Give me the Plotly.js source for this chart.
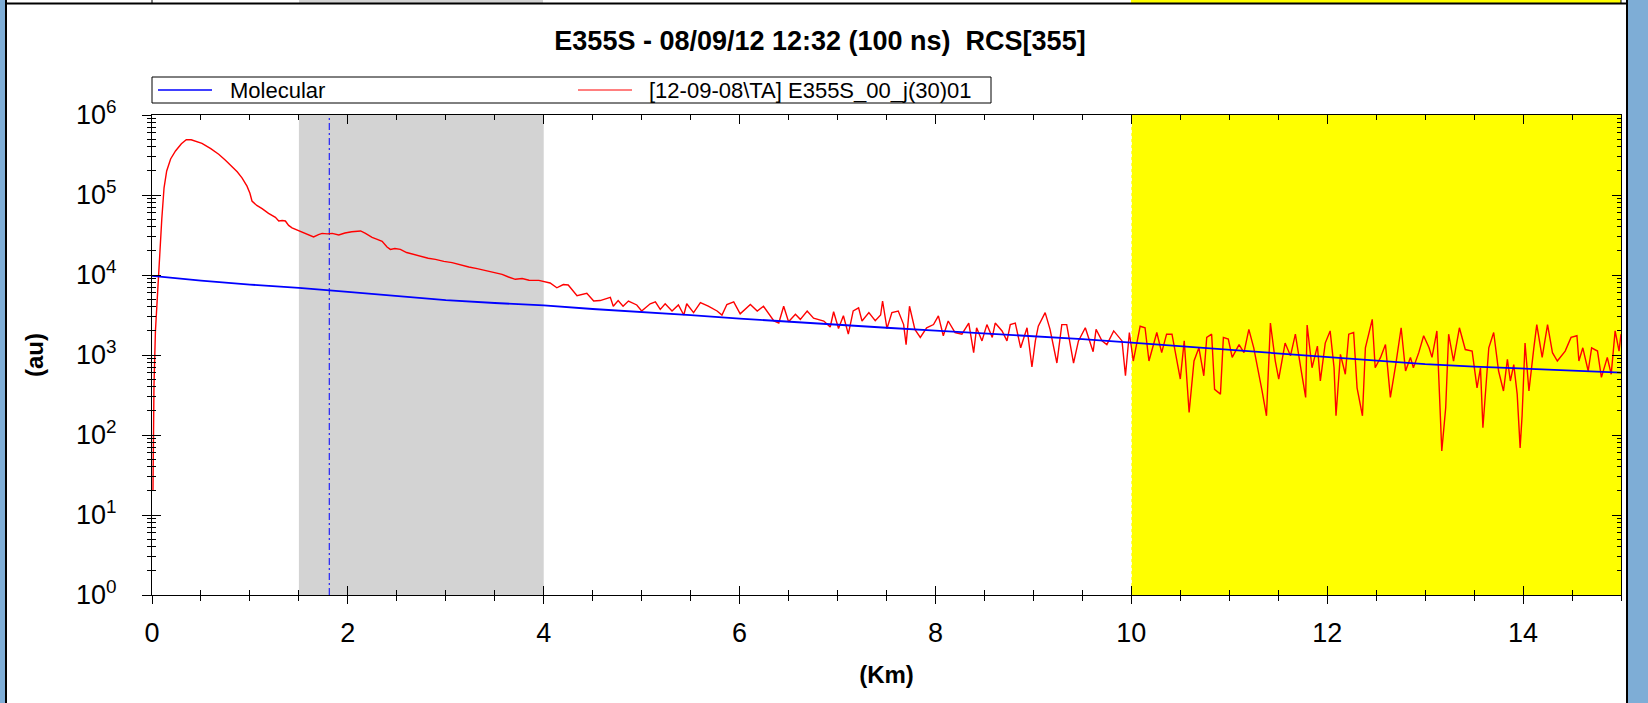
<!DOCTYPE html>
<html>
<head>
<meta charset="utf-8">
<script src="https://cdn.plot.ly/plotly-3.0.1.min.js"></script>
<style>
  html, body { margin: 0; padding: 0; background: #ffffff; }
  #chart { width: 1648px; height: 703px; }
</style>
</head>
<body>
<div id="chart"></div>
<script>
// ---------------- data ----------------
const chartTitle = 'E355S - 08/09/12 12:32 (100 ns)\u00a0\u00a0RCS[355]';
const molName = 'Molecular';
const rcsName = '[12-09-08\\TA] E355S_00_j(30)01';

// Molecular signal (au) vs range (km)
const molKm = [0, 0.5, 1, 1.5, 2, 2.5, 3, 3.5, 4, 4.5, 5, 5.5, 6, 6.5, 7, 7.5, 8, 8.5, 9, 9.5,
  10, 10.5, 11, 11.5, 12, 12.5, 13, 13.5, 14, 14.5, 15];
const molSignal = [9770, 8510, 7590, 6920, 6170, 5500, 4840, 4470, 4170, 3760, 3470, 3160, 2850, 2600,
  2370, 2190, 2020, 1860, 1740, 1580, 1430, 1290, 1170, 1050, 933, 841, 767, 716, 676, 646, 603];

// Range corrected signal (au) vs range (km)
const rcsKm = [0.010, 0.020, 0.035, 0.048, 0.065, 0.082, 0.100, 0.123, 0.150, 0.190, 0.240, 0.300, 0.350,
  0.400, 0.443, 0.510, 0.600, 0.681, 0.750, 0.817, 0.870, 0.919, 0.970, 1.000, 1.021, 1.070, 1.124, 1.190,
  1.260, 1.294, 1.330, 1.362, 1.395, 1.430, 1.470, 1.515, 1.580, 1.650, 1.700, 1.737, 1.790, 1.840, 1.907,
  1.970, 2.040, 2.090, 2.130, 2.180, 2.247, 2.300, 2.350, 2.400, 2.434, 2.480, 2.536, 2.600, 2.690, 2.760,
  2.820, 2.894, 2.980, 3.064, 3.150, 3.235, 3.320, 3.405, 3.490, 3.575, 3.640, 3.710, 3.780, 3.850, 3.950,
  4.065, 4.134, 4.200, 4.250, 4.340, 4.440, 4.510, 4.576, 4.680, 4.710, 4.760, 4.810, 4.865, 4.950, 5.000,
  5.087, 5.140, 5.190, 5.240, 5.310, 5.375, 5.430, 5.460, 5.530, 5.600, 5.680, 5.770, 5.820, 5.870, 5.940,
  6.006, 6.110, 6.180, 6.244, 6.310, 6.350, 6.400, 6.450, 6.500, 6.570, 6.620, 6.690, 6.755, 6.860, 6.925,
  6.960, 7.010, 7.060, 7.110, 7.160, 7.215, 7.250, 7.320, 7.385, 7.440, 7.460, 7.505, 7.555, 7.620, 7.675,
  7.700, 7.735, 7.790, 7.845, 7.910, 7.980, 8.030, 8.080, 8.130, 8.200, 8.270, 8.340, 8.390, 8.420, 8.475,
  8.525, 8.580, 8.610, 8.680, 8.730, 8.764, 8.815, 8.870, 8.935, 8.985, 9.020, 9.050, 9.120, 9.170, 9.240,
  9.290, 9.340, 9.410, 9.460, 9.530, 9.610, 9.640, 9.700, 9.750, 9.820, 9.905, 9.940, 9.980, 10.020, 10.090,
  10.140, 10.180, 10.260, 10.310, 10.360, 10.415, 10.470, 10.500, 10.540, 10.590, 10.640, 10.690, 10.740,
  10.770, 10.820, 10.850, 10.910, 10.940, 10.990, 11.030, 11.100, 11.150, 11.200, 11.250, 11.335, 11.380,
  11.420, 11.470, 11.505, 11.570, 11.625, 11.675, 11.730, 11.780, 11.795, 11.845, 11.900, 11.930, 11.980,
  12.030, 12.070, 12.090, 12.135, 12.185, 12.220, 12.270, 12.305, 12.360, 12.390, 12.460, 12.490, 12.545,
  12.595, 12.645, 12.700, 12.755, 12.800, 12.850, 12.880, 12.935, 12.985, 13.040, 13.070, 13.120, 13.170,
  13.210, 13.240, 13.290, 13.350, 13.410, 13.480, 13.530, 13.565, 13.590, 13.650, 13.700, 13.750, 13.800,
  13.840, 13.870, 13.905, 13.940, 13.970, 13.990, 14.020, 14.060, 14.110, 14.140, 14.195, 14.250, 14.300,
  14.350, 14.430, 14.490, 14.550, 14.570, 14.610, 14.665, 14.700, 14.760, 14.800, 14.860, 14.900, 14.940,
  14.980, 15.000];
const rcsSignal = [20, 400, 2000, 3890, 10000, 21900, 50100, 123000, 200000, 282000, 355000, 437000, 490000,
  490000, 473000, 443000, 380000, 323000, 272000, 229000, 195000, 164000, 129000, 105000, 84100, 74100, 67600, 58900,
  52500, 47300, 47900, 47300, 41700, 38900, 37200, 35500, 32400, 29900, 32000, 33100, 32700, 33100, 31600,
  33500, 34700, 35100, 35500, 33100, 29500, 27900, 26300, 22400, 20900, 21400, 20900, 19100, 17800, 17200,
  16200, 15700, 14800, 14300, 13300, 12600, 12000, 11400, 10700, 10200, 9440, 8830, 9020, 8610, 8570,
  7940, 6920, 7590, 7500, 5500, 5890, 4730, 4790, 5250, 4070, 4790, 4070, 4730, 4220, 3550,
  4370, 4620, 3720, 4370, 3550, 4220, 3160, 4370, 3390, 4520, 4070, 3550, 3160, 4270, 4620,
  3270, 4270, 3550, 4070, 3160, 2660, 2510, 4070, 2600, 3240, 2790, 3550, 2880, 2660, 2240,
  3470, 2140, 3090, 1820, 3550, 3890, 2660, 3390, 2690, 3160, 4730, 2140, 3390, 3550, 2400,
  1350, 4070, 2090, 1660, 2190, 2400, 3090, 1740, 2660, 1910, 1820, 2510, 1070, 2190, 1500,
  2400, 1660, 2510, 2000, 1500, 2400, 2510, 1230, 2190, 708, 1500, 2290, 3390, 2090, 794,
  2400, 2400, 794, 1500, 2190, 1100, 2090, 1500, 1350, 2000, 1500, 550, 1910, 841, 2290,
  2190, 841, 1910, 1070, 1820, 1820, 759, 501, 1500, 191, 841, 1230, 550,
  1660, 1820, 372, 324, 1660, 1580, 933, 1350, 1070, 2090, 1230, 355, 174,
  2510, 841, 501, 1410, 977, 1820, 692, 295, 2370, 692, 1290, 473, 1410,
  2000, 692, 174, 1020, 575, 1820, 1910, 389, 174, 1230, 2790, 692, 933,
  1350, 295, 759, 2190, 631, 933, 692, 1070, 1740, 1230, 933, 2000, 63,
  219, 1820, 841, 2190, 1170, 1120, 389, 692, 123, 1230, 1910, 631, 355,
  881, 473, 759, 324, 69, 174, 1410, 355, 1230, 2400, 933, 2400, 1070,
  841, 1120, 1660, 1740, 841, 1230, 631, 1230, 1120, 525, 933, 575, 2000,
  1120, 1820];

// reference regions (km)
const overlapRegion = [1.5, 4.0];
const calibRegion = [10, 15];
const refHeightKm = 1.81;

// axis ticks (powers of ten, exponent raised with a baseline shift)
const yTickVals = [1, 10, 100, 1000, 10000, 100000, 1000000];
const yTickExp = ['0', '1', '2', '3', '4', '5', '6'];
const yTickText = yTickExp.map(e =>
  '10<span style="font-size:70%;baseline-shift:60%">' + e + '</span>');
const yMinorVals = [];
for (let d = 0; d < 6; d++) {
  for (let m = 2; m <= 9; m++) yMinorVals.push(m * Math.pow(10, d));
}

// ---------------- figure geometry ----------------
const W = 1648, H = 703;
const L = 152, R = 27, T = 115, B = 108;
const PW = W - L - R, PH = H - T - B;
const px = v => (v - L) / PW;          // page x -> paper x
const py = v => (H - B - v) / PH;      // page y -> paper y

const FONT = 'Liberation Sans, Arial, Helvetica, sans-serif';
const frameBlue = '#7eadd6';
const molColor = '#0000ff', rcsColor = '#ff0000';

const traces = [
  {
    x: rcsKm, y: rcsSignal, name: rcsName, type: 'scatter', mode: 'lines',
    line: { color: rcsColor, width: 1.4 }, xaxis: 'x', yaxis: 'y', hoverinfo: 'skip'
  },
  {
    x: molKm, y: molSignal, name: molName, type: 'scatter', mode: 'lines',
    line: { color: molColor, width: 1.8 }, xaxis: 'x2', yaxis: 'y2', hoverinfo: 'skip'
  }
];

const baseX = {
  range: [0, 15], tick0: 0, dtick: 2, showgrid: false, zeroline: false,
  showline: true, linecolor: '#000', linewidth: 1, tickcolor: '#000', tickwidth: 1,
  fixedrange: true
};
const baseY = {
  type: 'log', range: [0, 6], tickmode: 'array', tickvals: yTickVals, ticktext: yTickText,
  showgrid: false, zeroline: false, showline: true, linecolor: '#000', linewidth: 1,
  tickcolor: '#000', tickwidth: 1, fixedrange: true
};

// legend box (drawn as a framed key above the plot, like the reference)
const legendBox = { x0: 152, x1: 991, y0: 77, y1: 103 };
const legendItems = [
  { name: molName, color: molColor, width: 1.5, lineX: [158, 212], textX: 228 },
  { name: rcsName, color: rcsColor, width: 1, lineX: [578, 632], textX: 647 }
];
const legendMidY = (legendBox.y0 + legendBox.y1) / 2;

const shapes = [
  // overlap region (grey) and calibration region (yellow)
  { type: 'rect', xref: 'x', yref: 'paper', x0: overlapRegion[0], x1: overlapRegion[1], y0: 0, y1: 1,
    fillcolor: '#d3d3d3', line: { width: 0 }, layer: 'below' },
  { type: 'rect', xref: 'x', yref: 'paper', x0: calibRegion[0], x1: calibRegion[1], y0: 0, y1: 1,
    fillcolor: '#ffff00', line: { width: 0 }, layer: 'below' },
  { type: 'line', xref: 'x', yref: 'paper', x0: calibRegion[0], x1: calibRegion[0], y0: 0, y1: 1,
    line: { color: '#ffffff', width: 1, dash: 'dot' }, layer: 'below' },
  // reference height marker
  { type: 'line', xref: 'x', yref: 'paper', x0: refHeightKm, x1: refHeightKm, y0: 0, y1: 1,
    line: { color: molColor, width: 1, dash: '7px,3px,2px,3px' }, layer: 'below' },
  // window frame: left / right blue strips with dark edge
  { type: 'rect', xref: 'paper', yref: 'paper', x0: px(0), x1: px(5), y0: py(H), y1: py(0),
    fillcolor: frameBlue, line: { width: 0 }, layer: 'above' },
  { type: 'line', xref: 'paper', yref: 'paper', x0: px(6), x1: px(6), y0: py(H), y1: py(0),
    line: { color: '#000', width: 2 }, layer: 'above' },
  { type: 'rect', xref: 'paper', yref: 'paper', x0: px(1628), x1: px(W), y0: py(H), y1: py(0),
    fillcolor: frameBlue, line: { width: 0 }, layer: 'above' },
  { type: 'line', xref: 'paper', yref: 'paper', x0: px(1627), x1: px(1627), y0: py(H), y1: py(0),
    line: { color: '#000', width: 2 }, layer: 'above' },
  // bottom edge of the chart above (partially visible)
  { type: 'rect', xref: 'paper', yref: 'paper', x0: px(299), x1: px(543), y0: py(3), y1: py(0),
    fillcolor: '#d3d3d3', line: { width: 0 }, layer: 'above' },
  { type: 'rect', xref: 'paper', yref: 'paper', x0: px(1131), x1: px(1621), y0: py(3), y1: py(0),
    fillcolor: '#ffff00', line: { width: 0 }, layer: 'above' },
  { type: 'line', xref: 'paper', yref: 'paper', x0: px(7), x1: px(1627), y0: py(3.5), y1: py(3.5),
    line: { color: '#000', width: 2 }, layer: 'above' },
  { type: 'line', xref: 'paper', yref: 'paper', x0: px(152), x1: px(152), y0: py(3), y1: py(0),
    line: { color: '#000', width: 1 }, layer: 'above' },
  { type: 'line', xref: 'paper', yref: 'paper', x0: px(1621), x1: px(1621), y0: py(3), y1: py(0),
    line: { color: '#000', width: 1 }, layer: 'above' },
  // legend frame
  { type: 'rect', xref: 'paper', yref: 'paper', x0: px(legendBox.x0), x1: px(legendBox.x1),
    y0: py(legendBox.y1), y1: py(legendBox.y0), fillcolor: '#ffffff',
    line: { color: '#000', width: 1 }, layer: 'above' }
];
const annotations = [];
legendItems.forEach(it => {
  shapes.push({ type: 'line', xref: 'paper', yref: 'paper', x0: px(it.lineX[0]), x1: px(it.lineX[1]),
    y0: py(legendMidY), y1: py(legendMidY), line: { color: it.color, width: it.width }, layer: 'above' });
  annotations.push({ xref: 'paper', yref: 'paper', x: px(it.textX), y: py(legendMidY + 0.5),
    xanchor: 'left', yanchor: 'middle', text: it.name, showarrow: false,
    font: { family: FONT, size: 22, color: '#000' } });
});

const layout = {
  width: W, height: H,
  margin: { l: L, r: R, t: T, b: B, pad: 0 },
  paper_bgcolor: '#ffffff', plot_bgcolor: '#ffffff',
  font: { family: FONT, color: '#000' },
  title: {
    text: chartTitle, xref: 'container', yref: 'container',
    x: 820 / W, xanchor: 'center', y: 1 - 41 / H, yanchor: 'middle',
    font: { family: FONT, size: 27, color: '#000', weight: 'bold' }
  },
  showlegend: false,
  xaxis: Object.assign({}, baseX, {
    ticks: 'outside', ticklen: 8,
    minor: { dtick: 0.5, ticks: 'outside', ticklen: 5, tickcolor: '#000', tickwidth: 1, showgrid: false },
    tickfont: { family: FONT, size: 27, color: '#000' },
    ticklabelstandoff: 6,
    title: { text: '(Km)', font: { family: FONT, size: 24, color: '#000', weight: 'bold' }, standoff: 18 }
  }),
  xaxis2: Object.assign({}, baseX, {
    overlaying: 'x', anchor: 'y2', side: 'bottom', mirror: 'ticks',
    ticks: 'inside', ticklen: 9, showticklabels: false,
    minor: { dtick: 0.5, ticks: 'inside', ticklen: 5, tickcolor: '#000', tickwidth: 1, showgrid: false }
  }),
  yaxis: Object.assign({}, baseY, {
    ticks: 'outside', ticklen: 9,
    minor: { tickmode: 'array', tickvals: yMinorVals, ticks: 'outside', ticklen: 4, tickcolor: '#000', tickwidth: 1, showgrid: false },
    tickfont: { family: FONT, size: 27, color: '#000' },
    ticklabelstandoff: 20,
    title: { text: '(au)', font: { family: FONT, size: 24, color: '#000', weight: 'bold' }, standoff: 25 }
  }),
  yaxis2: Object.assign({}, baseY, {
    overlaying: 'y', anchor: 'x2', side: 'left', mirror: 'ticks',
    ticks: 'inside', ticklen: 9, showticklabels: false,
    minor: { tickmode: 'array', tickvals: yMinorVals, ticks: 'inside', ticklen: 4, tickcolor: '#000', tickwidth: 1, showgrid: false }
  }),
  shapes: shapes,
  annotations: annotations
};

Plotly.newPlot('chart', traces, layout, { displayModeBar: false, staticPlot: true });
</script>
</body>
</html>
